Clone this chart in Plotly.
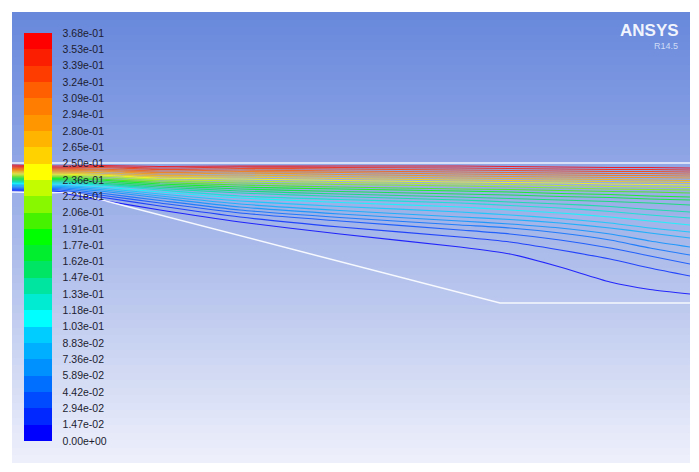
import plotly.graph_objects as go
import numpy as np

# ---------------- data ----------------
# colour legend (stream function values, 25 bands)
legend_labels = ["0.00e+00", "1.47e-02", "2.94e-02", "4.42e-02", "5.89e-02", "7.36e-02",
                 "8.83e-02", "1.03e-01", "1.18e-01", "1.33e-01", "1.47e-01", "1.62e-01",
                 "1.77e-01", "1.91e-01", "2.06e-01", "2.21e-01", "2.36e-01", "2.50e-01",
                 "2.65e-01", "2.80e-01", "2.94e-01", "3.09e-01", "3.24e-01", "3.39e-01",
                 "3.53e-01", "3.68e-01"]
legend_min = 0.0
legend_max = 0.368
band_colors = ["rgb(0,0,255)", "rgb(0,40,255)", "rgb(0,75,255)", "rgb(0,110,255)",
               "rgb(0,145,255)", "rgb(0,175,255)", "rgb(0,205,255)", "rgb(0,255,255)",
               "rgb(0,235,210)", "rgb(0,230,160)", "rgb(0,230,100)", "rgb(0,238,45)",
               "rgb(0,255,0)", "rgb(70,242,0)", "rgb(135,248,0)", "rgb(195,252,0)",
               "rgb(255,255,0)", "rgb(255,210,0)", "rgb(255,180,0)", "rgb(255,150,0)",
               "rgb(255,125,0)", "rgb(255,95,0)", "rgb(255,60,0)", "rgb(252,30,0)",
               "rgb(255,0,0)"]

# stream-function value carried by each streamline (bottom -> top)
stream_values = [0.0074, 0.0221, 0.0368, 0.0515, 0.0662, 0.0810, 0.0957, 0.1104,
                 0.1251, 0.1398, 0.1546, 0.1693, 0.1840, 0.1987, 0.2134, 0.2282,
                 0.2429, 0.2576, 0.2723, 0.2870, 0.3018, 0.3165, 0.3312, 0.3459,
                 0.3606]

# axial stations and streamline depths (screen-depth units) at each station
stations_x = [12, 60, 100, 160, 240, 340, 460, 510, 560, 610, 650, 690]
depth_x12 = [191.0, 189.9, 188.8, 187.8, 186.7, 185.6, 184.5, 183.4, 182.3, 181.3, 180.2, 179.1,
             178.0, 176.9, 175.8, 174.8, 173.7, 172.6, 171.5, 170.4, 169.3, 168.3, 167.2, 166.1, 165.0]
depth_x60 = [193.0, 191.5, 190.0, 188.8, 187.6, 186.4, 185.2, 184.0, 182.9, 181.8, 180.7, 179.6,
             178.5, 177.4, 176.3, 175.2, 174.2, 173.2, 172.2, 171.2, 170.2, 169.2, 168.2, 167.2, 166.0]
depth_x100 = [200.0, 197.0, 195.0, 193.0, 191.0, 189.5, 188.0, 186.5, 185.0, 184.0, 183.0, 181.5,
              180.0, 179.0, 177.5, 176.0, 175.0, 174.0, 172.5, 171.0, 170.0, 169.0, 167.5, 166.5, 165.5]
depth_x160 = [210.0, 206.0, 203.0, 200.5, 198.0, 196.0, 194.0, 192.0, 190.0, 188.5, 187.0, 185.5,
              184.0, 182.5, 181.0, 179.5, 178.0, 177.0, 175.5, 174.0, 172.5, 171.0, 169.5, 168.0, 166.5]
depth_x240 = [222.0, 217.0, 213.0, 210.0, 207.0, 204.0, 201.0, 198.0, 196.0, 193.0, 191.0, 189.0,
              187.0, 185.0, 183.0, 181.0, 179.0, 177.0, 175.0, 173.0, 171.5, 170.0, 168.5, 167.0, 166.0]
depth_x340 = [234.0, 227.0, 221.0, 217.5, 214.0, 210.5, 206.5, 202.5, 199.5, 196.5, 194.0, 191.5,
              189.0, 187.0, 184.5, 182.5, 180.5, 178.5, 176.5, 174.5, 172.5, 171.0, 169.0, 167.5, 166.0]
depth_x460 = [247.0, 237.0, 230.0, 225.0, 221.0, 217.0, 212.0, 207.0, 203.0, 200.0, 197.0, 194.0,
              191.0, 189.0, 186.0, 184.0, 182.0, 180.0, 178.0, 176.0, 174.0, 172.0, 170.0, 168.0, 166.0]
depth_x510 = [254.0, 242.0, 234.0, 228.0, 224.0, 219.5, 215.0, 210.0, 205.5, 202.0, 198.5, 195.0,
              192.0, 189.5, 187.0, 184.5, 182.5, 180.5, 178.5, 176.5, 174.5, 172.5, 170.5, 168.5, 166.5]
depth_x560 = [267.0, 250.0, 240.0, 233.0, 228.0, 223.0, 218.5, 213.0, 208.0, 204.0, 200.0, 196.5,
              193.5, 190.5, 188.0, 185.5, 183.0, 181.0, 179.0, 177.0, 175.0, 173.0, 171.0, 169.0, 167.0]
depth_x610 = [282.0, 259.0, 248.0, 240.0, 234.0, 228.0, 223.0, 217.0, 211.5, 206.5, 201.5, 197.5,
              194.5, 191.5, 189.0, 186.5, 184.0, 181.5, 179.5, 177.5, 175.5, 173.5, 171.5, 169.5, 167.5]
depth_x650 = [289.5, 268.0, 256.0, 248.0, 241.0, 233.0, 228.0, 221.0, 215.0, 209.5, 203.0, 199.0,
              196.0, 192.0, 189.5, 187.0, 184.5, 182.0, 180.0, 177.5, 175.5, 173.5, 171.5, 169.5, 167.5]
depth_x690 = [294.0, 276.0, 264.0, 255.0, 247.0, 238.0, 232.0, 225.0, 218.0, 212.0, 205.0, 200.0,
              197.0, 193.0, 190.0, 187.5, 185.0, 182.5, 180.5, 178.0, 176.0, 174.0, 172.0, 170.0, 168.0]

# duct walls
top_wall_x = [12, 690]
top_wall_depth = [163, 163]
bottom_wall_x = [12, 75, 500, 690]
bottom_wall_depth = [192, 193, 303, 303]

# ---------------- figure ----------------
station_depths = [depth_x12, depth_x60, depth_x100, depth_x160, depth_x240, depth_x340,
                  depth_x460, depth_x510, depth_x560, depth_x610, depth_x650, depth_x690]

X0, X1, Y0, Y1 = 12, 690, 12, 463

fig = go.Figure()

# background gradient
nb = 60
edges_y = np.linspace(Y0, Y1, nb + 1)
zbg = np.linspace(0, 1, nb).reshape(nb, 1)
fig.add_trace(go.Heatmap(
    x=[X0, X1], y=edges_y, z=zbg, showscale=False, hoverinfo="skip",
    colorscale=[[0, "rgb(104,136,220)"], [0.3, "rgb(140,163,228)"],
                [0.65, "rgb(188,200,238)"], [1, "rgb(237,240,251)"]],
    zmin=0, zmax=1))

step = (legend_max - legend_min) / len(band_colors)
for k, val in enumerate(stream_values):
    ys = [st[k] for st in station_depths]
    idx = min(int((val - legend_min) / step), len(band_colors) - 1)
    fig.add_trace(go.Scatter(
        x=stations_x, y=ys, mode="lines",
        line=dict(color=band_colors[idx], width=1.15, shape="spline", smoothing=0.6),
        opacity=0.8, hoverinfo="skip", showlegend=False))

# walls
fig.add_trace(go.Scatter(x=top_wall_x, y=top_wall_depth, mode="lines",
                         line=dict(color="rgba(245,248,255,0.95)", width=1.6),
                         hoverinfo="skip", showlegend=False))
fig.add_trace(go.Scatter(x=bottom_wall_x, y=bottom_wall_depth, mode="lines",
                         line=dict(color="rgba(250,252,255,0.95)", width=1.5),
                         hoverinfo="skip", showlegend=False))

# discrete colour legend
nbands = len(band_colors)
cscale = []
for i, c in enumerate(band_colors):
    cscale.append([i / nbands, c])
    cscale.append([(i + 1) / nbands, c])
tickvals = list(np.linspace(legend_min, legend_max, len(legend_labels)))
fig.add_trace(go.Scatter(
    x=[None], y=[None], mode="markers", hoverinfo="skip", showlegend=False,
    marker=dict(color=[legend_min], cmin=legend_min, cmax=legend_max,
                colorscale=cscale, showscale=True,
                colorbar=dict(
                    x=(24 - X0) / (X1 - X0), xanchor="left", xpad=0,
                    y=1 - (237 - Y0) / (Y1 - Y0), yanchor="middle", ypad=0,
                    thickness=28, thicknessmode="pixels",
                    len=408, lenmode="pixels",
                    outlinewidth=0,
                    tickmode="array", tickvals=tickvals, ticktext=legend_labels,
                    ticks="outside", ticklen=9, tickcolor="rgba(0,0,0,0)",
                    tickfont=dict(family="Liberation Sans Narrow, Arial Narrow, Liberation Sans, Arial",
                                  size=10.5, color="#1c1c30"),
                ))))

fig.add_annotation(x=681, y=30, xref="x", yref="y", text="<b>ANSYS</b>", showarrow=False,
                   xanchor="right", yanchor="middle",
                   font=dict(family="Liberation Sans Narrow, Arial Narrow, Liberation Sans", size=17,
                             color="rgba(250,252,255,0.95)"))
fig.add_annotation(x=680, y=46, xref="x", yref="y", text="R14.5", showarrow=False,
                   xanchor="right", yanchor="middle",
                   font=dict(family="Liberation Sans Narrow, Arial Narrow, Liberation Sans", size=9,
                             color="rgba(215,225,248,0.95)"))

fig.update_layout(
    width=699, height=472,
    margin=dict(l=X0, r=699 - X1, t=Y0, b=472 - Y1, autoexpand=False),
    paper_bgcolor="white", plot_bgcolor="rgb(170,185,232)",
    xaxis=dict(range=[X0, X1], visible=False, fixedrange=True),
    yaxis=dict(range=[Y1, Y0], visible=False, fixedrange=True),
    showlegend=False,
)

fig.write_html("out.html", config={"displayModeBar": False},
               post_script="document.body.style.margin='0px';")
